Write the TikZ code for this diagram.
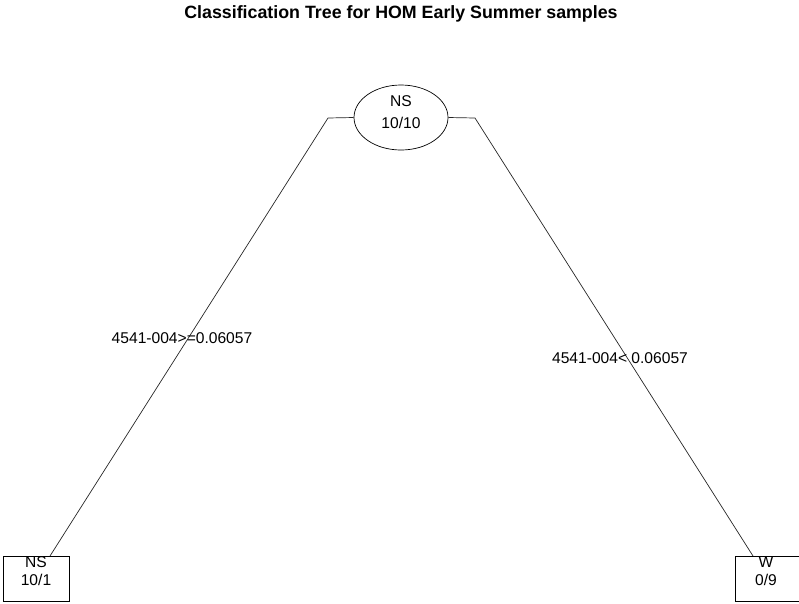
\documentclass[tikz,border=0pt]{standalone}
\usepackage{fontspec}
\setmainfont{Liberation Sans}
\usetikzlibrary{shapes.geometric}
\begin{document}
\begin{tikzpicture}[x=1pt,y=-1pt,
  lbl/.style={font=\fontsize{15.6}{17}\selectfont, inner sep=0pt},
  leafbox/.style={draw, line width=1pt, minimum width=66pt, minimum height=45pt, inner sep=0pt},
  conn/.style={line width=0.7pt, draw=black!85}]
\useasboundingbox (0,0) rectangle (799,603);
\clip (0,0) rectangle (799,603);
\node[font=\bfseries\fontsize{17.8}{20}\selectfont, inner sep=0pt] (title) at (401,14) {Classification Tree for HOM Early Summer samples};
\node[draw, ellipse, line width=0.7pt, minimum width=94pt, minimum height=65pt, inner sep=0pt] (root) at (401,117.5) {};
\node[lbl] (rootA) at (401,101) {NS};
\node[lbl] (rootB) at (401,123) {10/10};
\node[leafbox] (leafL) at (36,578.5) {};
\node[lbl] (leafLA) at (36,562) {NS};
\node[lbl] (leafLB) at (36,580) {10/1};
\node[leafbox] (leafR) at (768,578.5) {};
\node[lbl] (leafRA) at (766,562) {W};
\node[lbl] (leafRB) at (766,580) {0/9};
\coordinate (kL) at (328,118);
\coordinate (kR) at (475,118);
\coordinate (eL) at (50,556);
\coordinate (eR) at (753,556);
\draw[conn] (root.west) -- (kL) -- (eL);
\draw[conn] (root.east) -- (kR) -- (eR);
\node[lbl] (splitL) at (182,338) {4541-004>=0.06057};
\node[lbl] (splitR) at (620,358) {4541-004< 0.06057};
\end{tikzpicture}
\end{document}
